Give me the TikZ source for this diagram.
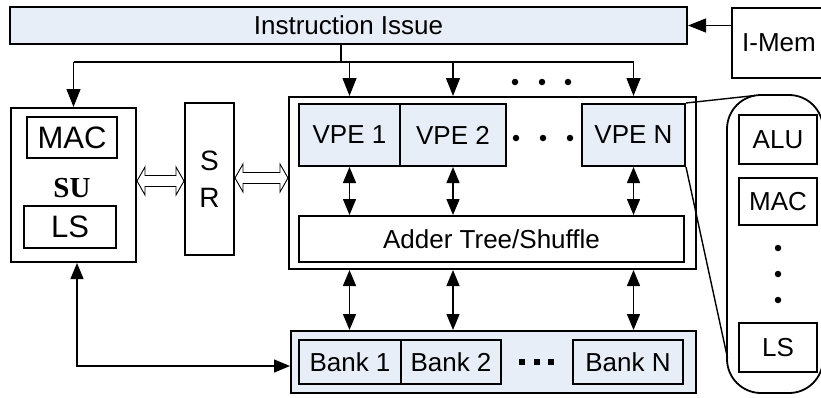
\documentclass[tikz,border=0pt]{standalone}
\usepackage{fontspec}
\setmainfont{Liberation Sans}
\newfontfamily\serifbold{Liberation Serif}
\usetikzlibrary{arrows.meta,calc}
\definecolor{lblue}{RGB}{232,238,248}
\begin{document}
\begin{tikzpicture}[x=1pt,y=-1pt,
  box/.style={draw,line width=2pt,inner sep=0pt,font=\fontsize{26}{30}\selectfont},
  bluebox/.style={box,fill=lblue},
  arr/.style={line width=1.4pt,-{Triangle[length=18pt,width=14pt]}},
  darr/.style={line width=1.4pt,{Triangle[length=16pt,width=13pt]}-{Triangle[length=16pt,width=13pt]}},
  hollowline/.style={line width=0.9pt,line join=miter},
  dot/.style={fill,circle,inner sep=0pt,minimum size=6.5pt}]
\useasboundingbox (0,0) rectangle (821,397);
% top bar and I-Mem
\node[bluebox,minimum width=677pt,minimum height=37pt] (issue) at (348.5,25.5) {Instruction Issue};
\node[box,minimum width=94pt,minimum height=70pt] (imem) at (779,43) {I-Mem};
\draw[arr] (issue.east -| imem.west) -- (issue.east);
% SU
\node[box,minimum width=125pt,minimum height=154pt] (su) at (73.5,185) {};
\node[box,minimum width=90pt,minimum height=41pt,font=\fontsize{31}{34}\selectfont] (sumac) at (72,137.5) {MAC};
\node[inner sep=0pt,font=\serifbold\bfseries\fontsize{29}{32}\selectfont] (sulabel) at (72,188) {SU};
\node[box,minimum width=92pt,minimum height=42pt,font=\fontsize{31}{34}\selectfont] (suls) at (70,227) {LS};
% SR
\node[box,minimum width=49pt,minimum height=152pt,align=center,font=\fontsize{28}{37}\selectfont] (sr) at (209.5,179) {S\\R};
% vector unit
\node[box,minimum width=407pt,minimum height=172pt] (vpu) at (492.5,183) {};
\node[bluebox,minimum width=101pt,minimum height=62pt] (vpe1) at (349.5,135) {VPE 1};
\node[bluebox,minimum width=106pt,minimum height=62pt] (vpe2) at (453,135) {VPE 2};
\node[bluebox,minimum width=103pt,minimum height=62pt] (vpen) at (633.5,135) {VPE N};
\node[box,minimum width=385pt,minimum height=46pt] (adder) at (491.5,239) {Adder Tree/Shuffle};
% banks
\node[bluebox,minimum width=405pt,minimum height=62pt] (bank) at (493.5,362) {};
\node[bluebox,minimum width=102pt,minimum height=44pt] (bank1) at (350,362) {Bank 1};
\node[bluebox,minimum width=100pt,minimum height=44pt] (bank2) at (451,362) {Bank 2};
\node[bluebox,minimum width=110pt,minimum height=44pt] (bankn) at (628,362) {Bank N};
% capsule
\node[draw,line width=1.8pt,rounded corners=34pt,minimum width=96pt,minimum height=298pt] (cap) at (775,244) {};
\node[box,minimum width=78pt,minimum height=49pt] (alu) at (778,139.5) {ALU};
\node[box,minimum width=78pt,minimum height=47pt] (cmac) at (778,201.5) {MAC};
\node[box,minimum width=78pt,minimum height=49pt] (cls) at (778,347.5) {LS};
\node[dot] (cd1) at (778,248) {};
\node[dot] (cd2) at (778,274) {};
\node[dot] (cd3) at (778,300) {};
% dots
\node[dot] (td1) at (515,82) {};
\node[dot] (td2) at (542,82) {};
\node[dot] (td3) at (568,82) {};
\node[dot] (md1) at (516,138) {};
\node[dot] (md2) at (543,138) {};
\node[dot] (md3) at (570,138) {};
\node[fill,inner sep=0pt,minimum size=6.5pt] (bd1) at (522,362) {};
\node[fill,inner sep=0pt,minimum size=6.5pt] (bd2) at (537,362) {};
\node[fill,inner sep=0pt,minimum size=6.5pt] (bd3) at (551,362) {};
% instruction tree
\coordinate (tj) at (341,62);
\draw[line width=1.4pt] (tj |- issue.south) -- (tj);
\draw[line width=1.4pt] (tj -| su.north) -- (tj -| vpen);
\draw[arr] (tj -| su.north) -- (su.north);
\draw[arr] (tj -| vpe1) -- (vpe1 |- vpu.north);
\draw[arr] (tj -| vpe2) -- (vpe2 |- vpu.north);
\draw[arr] (tj -| vpen) -- (vpen |- vpu.north);
% hollow arrows
\coordinate (h1a) at ([yshift=-2pt]su.east |- sr.west);
\coordinate (h1b) at ([yshift=-2pt]sr.west);
\coordinate (h2a) at ([yshift=1pt]sr.east);
\coordinate (h2b) at ([yshift=1pt]sr.east -| vpu.west);
\foreach \a/\b in {h1a/h1b,h2a/h2b}{
  \draw[hollowline] let \p1=(\a), \p2=(\b) in
    (\x1,\y1) -- (\x1+8pt,\y1+14pt) -- (\x1+8pt,\y1+5.5pt) -- (\x2-8pt,\y2+5.5pt)
    -- (\x2-8pt,\y2+14pt) -- (\x2,\y2) -- (\x2-8pt,\y2-14pt) -- (\x2-8pt,\y2-5.5pt)
    -- (\x1+8pt,\y1-5.5pt) -- (\x1+8pt,\y1-14pt) -- cycle;
}
% vpe to adder
\draw[darr] (vpe1.south) -- (vpe1.south |- adder.north);
\draw[darr] (vpe2.south) -- (vpe2.south |- adder.north);
\draw[darr] (vpen.south) -- (vpen.south |- adder.north);
% vpu to banks
\draw[darr] (vpu.south -| vpe1) -- (bank.north -| vpe1);
\draw[darr] (vpu.south -| vpe2) -- (bank.north -| vpe2);
\draw[darr] (vpu.south -| vpen) -- (bank.north -| vpen);
% SU to bank
\coordinate (sub) at ([xshift=3.5pt]su.south);
\draw[darr] (sub) |- ([yshift=-4pt]bank.west);
% zoom lines
\coordinate (zt) at (755,95.5);
\coordinate (zb) at (727.5,358);
\draw[line width=1.4pt] (vpen.north east) -- (zt);
\draw[line width=1.4pt] (vpen.south east) -- (zb);
\end{tikzpicture}
\end{document}
